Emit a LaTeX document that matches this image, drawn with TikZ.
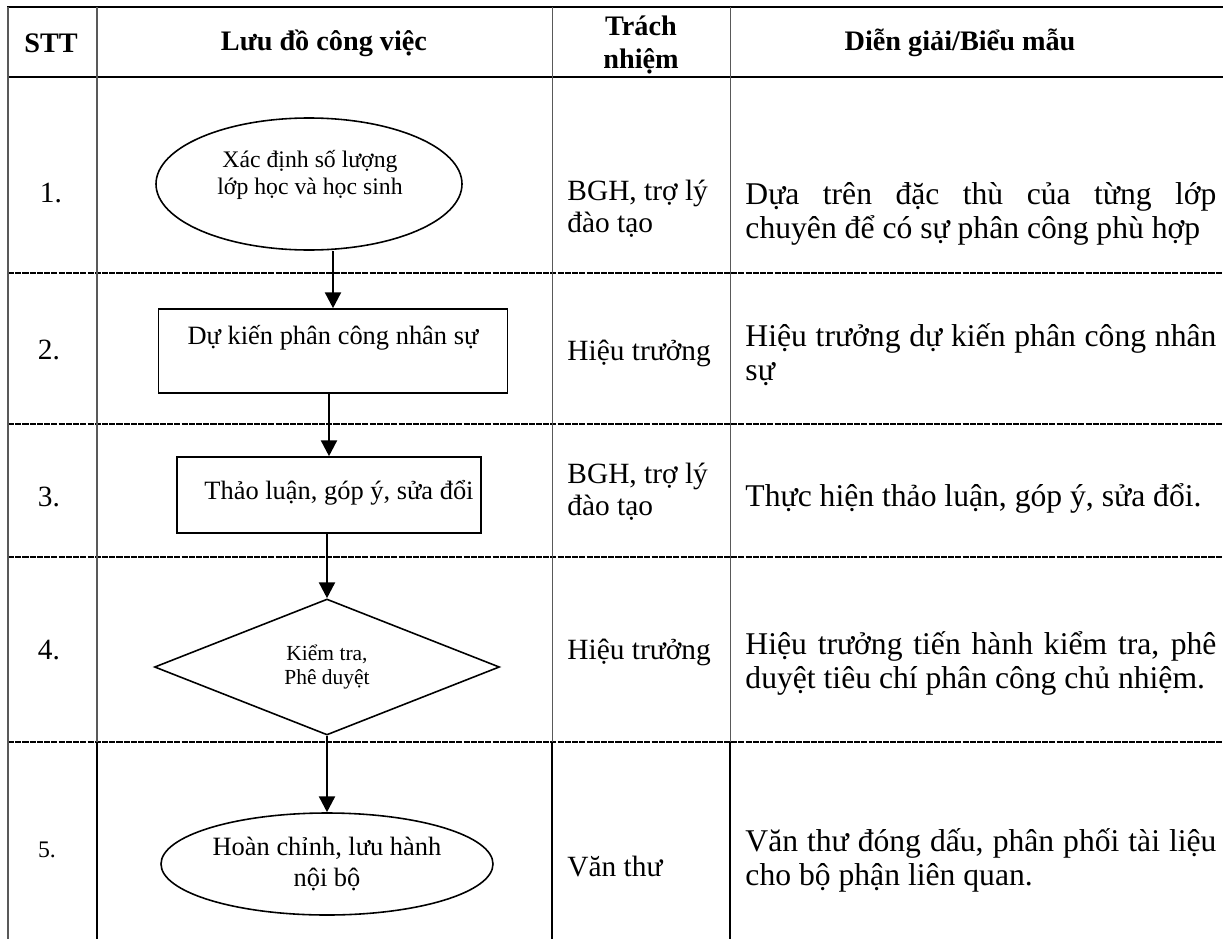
\documentclass[tikz,border=0pt]{standalone}
\usepackage{fontspec}
\setmainfont{Liberation Serif}
\usetikzlibrary{shapes.geometric,arrows.meta}

\newcommand{\pxu}{0.4425pt}
\newlength{\dgw}\setlength{\dgw}{208.4pt}
\newcommand{\jline}[1]{\makebox[\dgw][s]{#1}}

\tikzset{
  toprule/.style={line width=1.2pt},
  rowrule/.style={line width=1.0pt, dash pattern=on 2.7pt off 0.5pt},
  colrule/.style={line width=0.45pt, black!65},
  colrulefive/.style={line width=0.9pt},
  hdr/.style={font=\fontsize{12.5}{14.6}\selectfont\bfseries, inner sep=0pt, align=center},
  num/.style={font=\fontsize{13}{15}\selectfont, inner sep=0pt},
  resp/.style={font=\fontsize{13}{14}\selectfont, inner sep=0pt, anchor=west, align=left},
  expl/.style={font=\fontsize{14}{15}\selectfont, inner sep=0pt, anchor=west, align=left},
  flowell/.style={draw, ellipse, line width=0.7pt, inner sep=0pt, align=center},
  flowbox/.style={draw, rectangle, line width=0.7pt, inner sep=0pt},
  flowdia/.style={draw, diamond, shape aspect=2.5, line width=0.7pt, inner sep=1pt, align=center},
  flowtxt/.style={inner sep=0pt, align=center, font=\fontsize{11.7}{13}\selectfont},
  flowarr/.style={line width=1.1pt, -{Triangle[length=7pt, width=7pt]}}
}

\begin{document}
\begin{tikzpicture}[x=\pxu, y=-\pxu]
\useasboundingbox (0,0) rectangle (1223,939);

% table rules
\draw[toprule] (7,7) -- (1223,7);
\draw[toprule] (7,77) -- (1223,77);
\foreach \y in {273,424,557,742}
  \draw[rowrule] (8,\y) -- (1223,\y);
\draw[colrule] (8,7) -- (8,939);
\foreach \x in {97,552,730}{
  \draw[colrule] (\x,7) -- (\x,742);
  \draw[colrulefive] (\x,742) -- (\x,939);
}

% header
\node[hdr] (hstt) at (51,43) {STT};
\node[hdr] (hflow) at (324,43) {Lưu đồ công việc};
\node[hdr] (hresp) at (641,45) {Trách\\nhiệm};
\node[hdr] (hexpl) at (960,43) {Diễn giải/Biểu mẫu};

% step numbers
\node[num] (n1) at (51,193) {1.};
\node[num] (n2) at (49,350) {2.};
\node[num] (n3) at (49,497) {3.};
\node[num] (n4) at (49,650) {4.};
\node[num, font=\fontsize{10.5}{12}\selectfont] (n5) at (47,850) {5.};

% flow chart
\node[flowell, minimum width=306*\pxu, minimum height=132*\pxu] (e1) at (309,184) {};
\node[flowtxt, font=\fontsize{10.5}{12}\selectfont] (t1) at (310,174.5) {Xác định số lượng\\lớp học và học sinh};
\node[flowbox, minimum width=349*\pxu, minimum height=84*\pxu] (b2) at (333,351) {};
\node[flowtxt] (t2) at (333,338) {Dự kiến phân công nhân sự};
\node[flowbox, minimum width=304*\pxu, minimum height=76*\pxu] (b3) at (329,495) {};
\node[flowtxt] (t3) at (339,493) {Thảo luận, góp ý, sửa đổi};
\node[flowdia, minimum width=345*\pxu, minimum height=136*\pxu, font=\fontsize{9.5}{11}\selectfont] (d4) at (327,667) {Kiểm tra,\\Phê duyệt};
\node[flowell, minimum width=332*\pxu, minimum height=102*\pxu, font=\fontsize{11.7}{13.3}\selectfont] (e5) at (327,864) {Hoàn chỉnh, lưu hành\\nội bộ};

\draw[flowarr] (e1.south -| b2.north) -- (b2.north);
\draw[flowarr] (b2.south -| b3.north) -- (b3.north);
\draw[flowarr] (b3.south -| d4.north) -- (d4.north);
\draw[flowarr] (d4.south) -- (e5.north);

% responsibility
\node[resp] (r1) at (567,209) {BGH, trợ lý\\đào tạo};
\node[resp] (r2) at (567,353) {Hiệu trưởng};
\node[resp] (r3) at (567,492) {BGH, trợ lý\\đào tạo};
\node[resp] (r4) at (567,652) {Hiệu trưởng};
\node[resp] (r5) at (567,867) {Văn thư};

% explanation
\node[expl] (x1) at (745,214) {\jline{Dựa trên đặc thù của từng lớp}\\chuyên để có sự phân công phù hợp};
\node[expl] (x2) at (745,355) {\jline{Hiệu trưởng dự kiến phân công nhân}\\sự};
\node[expl] (x3) at (745,498) {Thực hiện thảo luận, góp ý, sửa đổi.};
\node[expl] (x4) at (745,663) {\jline{Hiệu trưởng tiến hành kiểm tra, phê}\\duyệt tiêu chí phân công chủ nhiệm.};
\node[expl] (x5) at (745,860) {\jline{Văn thư đóng dấu, phân phối tài liệu}\\cho bộ phận liên quan.};
\end{tikzpicture}
\end{document}
